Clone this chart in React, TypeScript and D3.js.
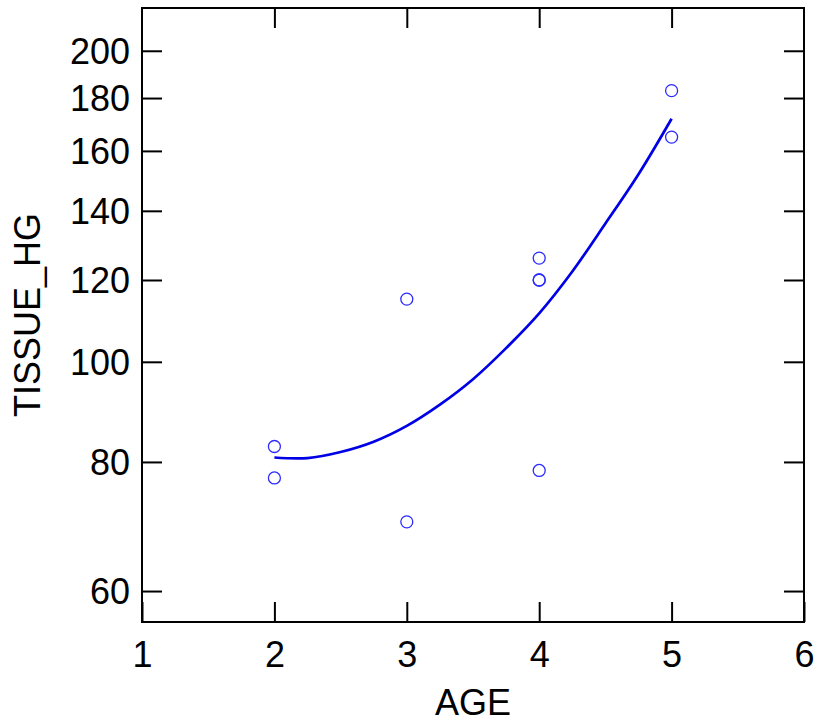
import React, { useRef, useEffect } from "react";
import * as d3 from "d3";

// observed samples
const age = [2, 2, 3, 3, 4, 4, 4, 4, 5, 5];
const tissueHg = [82.8, 77.2, 115, 70, 126, 120, 120, 78.5, 183, 165];

// fitted curve
const fitAge = [2, 2.25, 2.5, 2.75, 3, 3.25, 3.5, 3.75, 4, 4.25, 4.5, 4.75, 5];
const fitHg = [80.8, 80.7, 81.8, 83.7, 86.7, 90.9, 96.2, 103.1, 111.4, 122.3, 136.1, 151.9, 171.9];

const xTicks = [1, 2, 3, 4, 5, 6];
const yTicks = [60, 80, 100, 120, 140, 160, 180, 200];

const W = 817;
const H = 723;

const App = () => {
  const svgRef = useRef<SVGSVGElement>(null);

  useEffect(() => {
    const svg = d3.select(svgRef.current);
    svg.selectAll("*").remove();

    const margin = { top: 8, right: 13, bottom: 101, left: 142 };
    const x = d3
      .scaleLinear()
      .domain([1, 6])
      .range([margin.left, W - margin.right]);
    const y = d3
      .scaleLog()
      .domain([56, 220])
      .range([H - margin.bottom, margin.top]);

    const font = "'Liberation Sans', Arial, sans-serif";
    const tickLen = 20;

    // left axis with inward ticks
    const gl = svg
      .append("g")
      .attr("transform", `translate(${margin.left},0)`)
      .call(
        d3
          .axisLeft(y)
          .tickValues(yTicks)
          .tickFormat(d3.format("d"))
          .tickSizeInner(-tickLen)
          .tickSizeOuter(0)
          .tickPadding(12)
      );
    gl.select(".domain").remove();
    gl.selectAll("text").attr("dy", "0.355em");

    // bottom axis
    const gb = svg
      .append("g")
      .attr("transform", `translate(0,${H - margin.bottom})`)
      .call(
        d3
          .axisBottom(x)
          .tickValues(xTicks)
          .tickFormat(d3.format("d"))
          .tickSizeInner(-tickLen)
          .tickSizeOuter(0)
          .tickPadding(19)
      );
    gb.select(".domain").remove();

    // mirrored ticks on top and right, no labels
    const gt = svg
      .append("g")
      .attr("transform", `translate(0,${margin.top})`)
      .call(
        d3
          .axisTop(x)
          .tickValues(xTicks.slice(1, -1))
          .tickFormat(() => "")
          .tickSizeInner(-tickLen)
          .tickSizeOuter(0)
      );
    gt.select(".domain").remove();

    const gr = svg
      .append("g")
      .attr("transform", `translate(${W - margin.right},0)`)
      .call(
        d3
          .axisRight(y)
          .tickValues(yTicks)
          .tickFormat(() => "")
          .tickSizeInner(-tickLen)
          .tickSizeOuter(0)
      );
    gr.select(".domain").remove();

    svg
      .selectAll("g")
      .selectAll(".tick line")
      .attr("stroke", "#000")
      .attr("stroke-width", 2);
    svg
      .selectAll("g")
      .selectAll("text")
      .attr("fill", "#000")
      .style("font-family", font)
      .style("font-size", "36px");

    // frame
    svg
      .append("rect")
      .attr("x", margin.left)
      .attr("y", margin.top)
      .attr("width", W - margin.left - margin.right)
      .attr("height", H - margin.top - margin.bottom)
      .attr("fill", "none")
      .attr("stroke", "#000")
      .attr("stroke-width", 2);

    // fitted curve
    const line = d3
      .line<number>()
      .x((d, i) => x(fitAge[i]))
      .y((d) => y(d))
      .curve(d3.curveCatmullRom.alpha(0.5));
    svg
      .append("path")
      .attr("d", line(fitHg))
      .attr("fill", "none")
      .attr("stroke", "#0000e6")
      .attr("stroke-width", 2.7);

    // points
    svg
      .selectAll(".pt")
      .data(tissueHg)
      .enter()
      .append("circle")
      .attr("class", "pt")
      .attr("cx", (d, i) => x(age[i]))
      .attr("cy", (d) => y(d))
      .attr("r", 6)
      .attr("fill", "none")
      .attr("stroke", "#2b2bff")
      .attr("stroke-width", 1.3);

    // axis titles
    svg
      .append("text")
      .attr("x", (x(1) + x(6)) / 2)
      .attr("y", 715)
      .attr("text-anchor", "middle")
      .style("font-family", font)
      .style("font-size", "36px")
      .text("AGE");

    svg
      .append("text")
      .attr("transform", `translate(40,${(y.range()[0] + y.range()[1]) / 2}) rotate(-90)`)
      .attr("text-anchor", "middle")
      .style("font-family", font)
      .style("font-size", "36px")
      .text("TISSUE_HG");
  }, []);

  return (
    <div style={{ position: "absolute", left: 0, top: 0, background: "#fff" }}>
      <svg ref={svgRef} width={W} height={H} style={{ display: "block" }}></svg>
    </div>
  );
};

export default App;
